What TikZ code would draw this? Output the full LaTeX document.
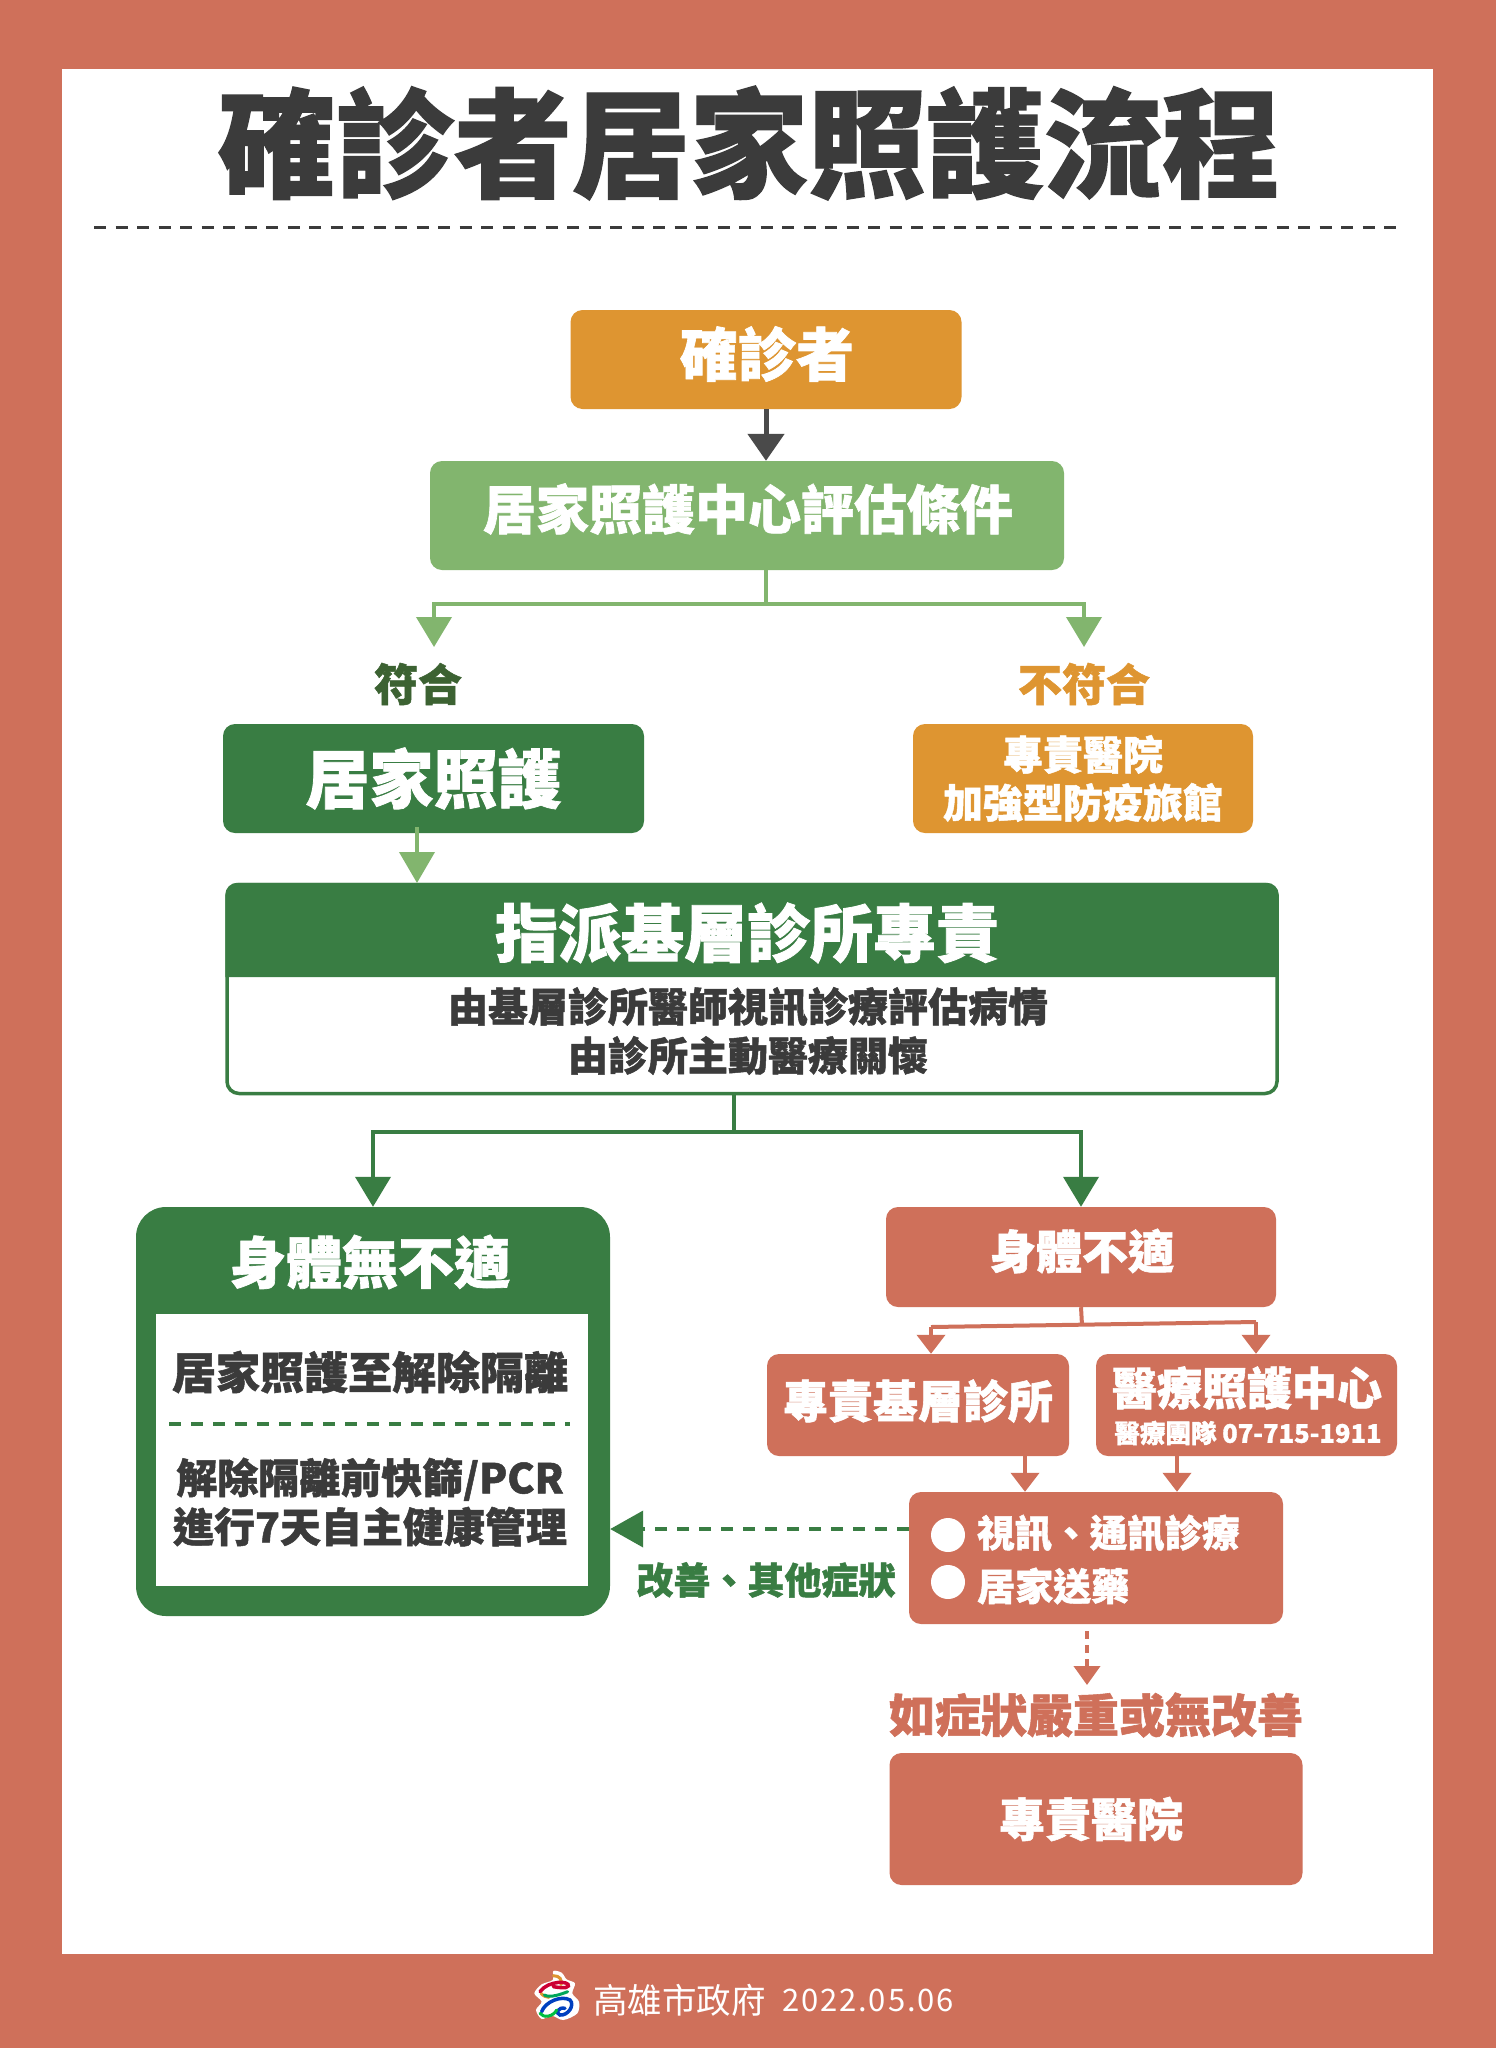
\documentclass[tikz,border=0pt]{standalone}
\usepackage{fontspec}
\usetikzlibrary{arrows.meta,calc}
\setmainfont{Noto Sans CJK TC}[BoldFeatures={FakeBold=1.2}]
\newfontfamily\cjk[LetterSpace=6]{Noto Sans CJK TC}
\definecolor{coral}{HTML}{CF705A}
\definecolor{amber}{HTML}{DE9531}
\definecolor{leaf}{HTML}{82B56E}
\definecolor{forest}{HTML}{397D43}
\definecolor{moss}{HTML}{3C6232}
\definecolor{ink}{HTML}{3B3B3B}
\definecolor{slate}{HTML}{4A4A4A}
\begin{document}
\begin{tikzpicture}[x=1pt,y=-1pt]
\tikzset{box/.style = {shape=rectangle,rounded corners=12pt,inner sep=0pt,align=center,text=white,font=\bfseries,minimum width=#1}}
\tikzset{label/.style = {inner sep=0pt,align=center,font=\bfseries}}
\tikzset{tip/.style = {-{Triangle[length=#1,width=35pt]}}}
\tikzset{leafline/.style = {leaf,line width=4pt}}
\tikzset{forestline/.style = {forest,line width=4pt}}
\tikzset{coralline/.style = {coral,line width=4pt}}
\tikzset{smalltip/.style = {-{Triangle[length=19pt,width=28pt]}}}
\useasboundingbox (0,0) rectangle (1496,2048);
% page frame
\fill[coral] (0,0) rectangle (1496,2048);
\fill[white] (62,69) rectangle (1433,1954);
% title
\node[label,text=ink,font=\fontsize{118}{118}\bfseries] (title) at (749,143) {確診者居家照護流程};
\coordinate (ruleleft) at (94,227);
\coordinate (ruleright) at (1396,227);
\draw[ink,line width=3pt,dash pattern=on 12pt off 9.5pt] (ruleleft) -- (ruleright);
% top of the flow
\node[box=391pt,fill=amber,minimum height=99pt] (patient) at (766,359.5) {};
\node[label,text=white,font=\fontsize{58}{58}\bfseries] (patientname) at (767,354) {確診者};
\node[box=634pt,fill=leaf,minimum height=109pt] (assess) at (747,515.5) {};
\node[label,text=white,font=\fontsize{53}{53}\bfseries] (assessname) at (748,509) {居家照護中心評估條件};
\draw[slate,line width=5pt,-{Triangle[length=27pt,width=36pt]}] (patient.south) -- (patient.south |- assess.north);
% eligible or not
\node[label,text=moss,font=\fontsize{44}{44}\bfseries] (fit) at (418,684) {符合};
\node[label,text=amber,font=\fontsize{44}{44}\bfseries] (unfit) at (1084,684) {不符合};
\coordinate (assessjoin) at (766,604);
\coordinate (fitin) at (434,647);
\coordinate (unfitin) at (1084,647);
\draw[leafline] (assess.south -| assessjoin) -- (assessjoin);
\draw[leafline,tip=30pt] (assessjoin) -| (fitin);
\draw[leafline,tip=30pt] (assessjoin) -| (unfitin);
\node[box=421pt,fill=forest,minimum height=109pt,font=\fontsize{64}{64}\bfseries] (home) at (433.5,778.5) {居家照護};
\node[box=340pt,fill=amber,minimum height=109pt,font=\fontsize{40}{48}\bfseries] (hospitalhotel) at (1083,778.5) {專責醫院\\加強型防疫旅館};
% assigned clinic
\node[box=1050pt,fill=white,draw=forest,line width=3.5pt,minimum height=209pt] (assign) at (752,989) {};
\fill[forest] (assign.south west |- 0,977) [rounded corners=12pt] -- (assign.north west) -- (assign.north east) [sharp corners] -- (assign.south east |- 0,977) -- cycle;
\node[label,text=white,font=\fontsize{63}{63}\bfseries] (assignhead) at (747,933) {指派基層診所專責};
\node[label,text=ink,font=\fontsize{40}{49}\bfseries] (assigntext) at (748,1031) {由基層診所醫師視訊診療評估病情\\由診所主動醫療關懷};
\draw[leafline,tip=31pt] (417,827) -- (417,883);
% well or unwell
\coordinate (assignjoin) at (734,1132);
\node[box=474pt,fill=forest,rounded corners=30pt,minimum height=409pt] (well) at (373,1411.5) {};
\node[box=390pt,fill=coral,minimum height=100pt] (unwell) at (1081,1257) {};
\node[label,text=white,font=\fontsize{46}{46}\bfseries] (unwellname) at (1082,1251) {身體不適};
\draw[forestline] (assign.south -| assignjoin) -- (assignjoin);
\draw[forestline,tip=30pt] (assignjoin) -| (well.north);
\draw[forestline,tip=30pt] (assignjoin) -| (unwell.north);
% inside the well box
\node[label,text=white,font=\fontsize{56}{56}\bfseries] (wellhead) at (370,1262) {身體無不適};
\node[shape=rectangle,fill=white,minimum width=432pt,minimum height=272pt,inner sep=0pt] (wellpanel) at (372,1450) {};
\node[label,text=ink,font=\fontsize{44}{44}\bfseries] (welltop) at (370,1372) {居家照護至解除隔離};
\node[label,text=ink,font=\fontsize{41}{49}\bfseries] (wellbottom) at (370,1502) {解除隔離前快篩/PCR\\進行7天自主健康管理};
\coordinate (wellruleleft) at (169,1424);
\coordinate (wellruleright) at (570,1424);
\draw[forest,line width=4pt,dash pattern=on 12pt off 10pt] (wellruleleft) -- (wellruleright);
% unwell branches
\node[box=302pt,fill=coral,minimum height=102pt] (clinic) at (918,1405) {};
\node[label,text=white,font=\fontsize{45}{45}\bfseries] (clinicname) at (918,1401) {專責基層診所};
\node[box=301pt,fill=coral,minimum height=102pt] (carecenter) at (1246.5,1405) {};
\node[label,text=white,font=\fontsize{45}{45}\bfseries] (carename) at (1247,1388) {醫療照護中心};
\node[label,text=white,font=\fontsize{25.5}{25.5}\bfseries] (carephone) at (1248,1433) {醫療團隊 07-715-1911};
\coordinate (branchmid) at (1082,1325);
\coordinate (branchleft) at (931,1327);
\coordinate (branchright) at (1256,1322);
\draw[coralline] (unwell.south) -- (branchmid);
\draw[coralline] (branchleft) -- (branchright);
\draw[coralline,smalltip] (branchleft) -- (clinic.north -| branchleft);
\draw[coralline,smalltip] (branchright) -- (carecenter.north -| branchright);
% remote care
\node[box=374pt,fill=coral,minimum height=132pt] (remote) at (1096,1558) {};
\node[shape=circle,fill=white,minimum size=34pt,inner sep=0pt] (bulletone) at (948,1535) {};
\node[shape=circle,fill=white,minimum size=34pt,inner sep=0pt] (bullettwo) at (948,1582) {};
\node[label,text=white,anchor=west,font=\fontsize{37.5}{37.5}\bfseries] (remoteone) at (977,1533) {視訊、通訊診療};
\node[label,text=white,anchor=west,font=\fontsize{38}{38}\bfseries] (remotetwo) at (977,1586) {居家送藥};
\coordinate (clinicout) at (1025,1456);
\coordinate (careout) at (1177,1456);
\draw[coralline,smalltip] (clinicout) -- (clinicout |- remote.north);
\draw[coralline,smalltip] (careout) -- (careout |- remote.north);
\coordinate (remoteback) at (909,1529);
\draw[forest,line width=4pt,dash pattern=on 12pt off 10pt,-{Triangle[length=33pt,width=36pt]}] (remoteback) -- (remoteback -| well.east);
\node[label,text=forest,font=\fontsize{37}{37}\bfseries] (better) at (766,1580) {改善、其他症狀};
% worse
\node[label,text=coral,font=\fontsize{46}{46}\bfseries] (worse) at (1096,1715) {如症狀嚴重或無改善};
\node[box=413pt,fill=coral,minimum height=132pt,font=\fontsize{46}{46}\bfseries] (hospital) at (1096,1819) {};
\node[label,text=white,font=\fontsize{46}{46}\bfseries] (hospitalname) at (1091,1819) {專責醫院};
\coordinate (remoteout) at (1087,1631);
\coordinate (worsein) at (1087,1685);
\draw[coralline,dash pattern=on 8pt off 6pt,-{Triangle[length=19pt,width=26pt]}] (remoteout) -- (worsein);
% footer
\begin{scope}[shift={(525,1960)},x=0.3333pt,y=-0.3333pt,line cap=round]
\fill[white] plot[smooth cycle] coordinates {(85,33) (110,38) (125,58) (150,70) (142,100) (162,125) (157,160) (115,180) (80,167) (50,177) (33,150) (50,125) (28,100) (50,73) (83,60)};
\draw[amber,line width=3pt] (85,47) .. controls (105,47) and (112,60) .. (108,74);
\draw[amber,line width=3pt] (48,100) .. controls (55,108) and (65,112) .. (72,112);
\draw[purple!80!red,line width=3.5pt] (45,95) .. controls (70,60) and (135,62) .. (130,78) .. controls (125,87) and (100,82) .. (85,80);
\draw[teal!70!green,line width=3pt] (58,105) .. controls (75,115) and (110,102) .. (128,95);
\draw[blue!50!teal,line width=3.5pt] (50,155) .. controls (60,125) and (110,105) .. (135,120) .. controls (150,135) and (130,167) .. (105,165) .. controls (90,160) and (100,140) .. (120,145);
\draw[green!50!teal,line width=3pt] (45,160) .. controls (55,175) and (85,170) .. (95,150);
\end{scope}
\node[label,text=white,font=\fontsize{34.5}{34.5}\selectfont,anchor=west] (city) at (593,2000) {高雄市政府};
\node[label,text=white,font=\fontsize{31}{31}\cjk,anchor=west] (date) at (782,2000) {2022.05.06};
\end{tikzpicture}
\end{document}
